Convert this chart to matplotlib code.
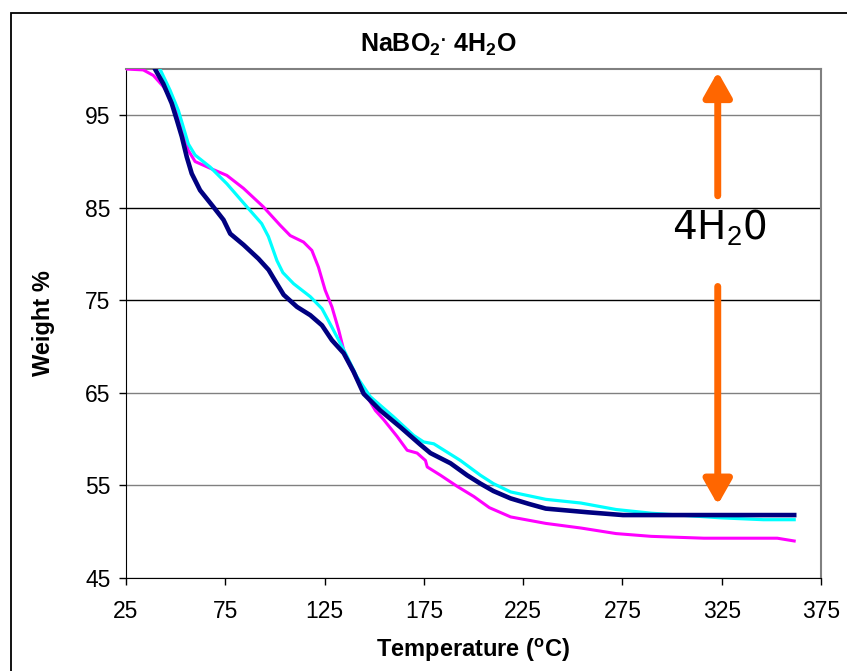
import numpy as np
import matplotlib
matplotlib.use('Agg')
import matplotlib.pyplot as plt
from matplotlib.patches import Rectangle

plt.rcParams['font.family'] = ['Liberation Sans', 'DejaVu Sans']
plt.rcParams['mathtext.fontset'] = 'custom'
plt.rcParams['mathtext.rm'] = 'Liberation Sans'
plt.rcParams['mathtext.bf'] = 'Liberation Sans:bold'

# TGA traces (temperature in C, weight in %)
navy_t = [38.5, 39.6, 43.8, 48.0, 50.6, 53.1, 55.6, 58.1, 62.3, 69.0, 74.1, 77.5, 84.2, 91.7,
          96.8, 99.3, 104.4, 111.1, 117.8, 123.7, 128.7, 134.6, 139.6, 144.7, 153.1, 163.2,
          173.3, 178.3, 188.4, 196.8, 203.5, 210, 218.7, 228, 236.4, 247, 257.6, 275.3, 300,
          330, 361.5]
navy_w = [100.5, 100.0, 98.4, 96.3, 94.5, 92.7, 90.5, 88.7, 86.9, 85.1, 83.7, 82.2, 81.0, 79.5,
          78.3, 77.4, 75.6, 74.3, 73.4, 72.3, 70.7, 69.3, 67.3, 64.9, 63.1, 61.3, 59.4, 58.5,
          57.4, 56.1, 55.2, 54.4, 53.6, 53.0, 52.5, 52.3, 52.1, 51.8, 51.8, 51.8, 51.8]

cyan_t = [41.5, 42.1, 47.2, 51.4, 53.9, 56.4, 59.8, 67.4, 75.8, 85.9, 93.3, 96.7, 101.0, 104,
          109.4, 117.8, 123.7, 128.7, 135.5, 141.4, 148.0, 159.8, 169.9, 174.9, 180.0, 193.4,
          203.5, 210, 218.7, 236.4, 254.1, 271.8, 289.5, 324.8, 346, 361.5]
cyan_w = [100.5, 100, 97.7, 95.5, 93.7, 91.9, 90.7, 89.4, 87.6, 85.1, 83.3, 81.9, 79.3, 78.0,
          76.8, 75.4, 74.1, 72.1, 69.3, 66.7, 64.6, 62.4, 60.4, 59.7, 59.5, 57.7, 56.1, 55.2,
          54.3, 53.5, 53.1, 52.4, 52.0, 51.5, 51.3, 51.3]

mag_t = [25, 33.7, 38.8, 43.8, 48.8, 53.0, 56.4, 59.8, 68.2, 75.8, 84.2, 94.2, 102.7, 107.7,
         114.4, 118.6, 121.9, 125.3, 128.7, 132.1, 135.5, 141.4, 146.4, 150.6, 154.8, 161.5,
         166.6, 171.6, 175.8, 176.7, 183.4, 191.8, 200.2, 208, 218.7, 236.4, 254.1, 271.8,
         289.5, 316, 353, 361.5]
mag_w = [100, 99.9, 99.3, 98.1, 96.3, 93.7, 91.2, 90.0, 89.2, 88.5, 87.1, 85.1, 83.1, 82.0,
         81.3, 80.4, 78.6, 76.1, 74.3, 71.8, 68.9, 66.4, 64.6, 63.1, 62.1, 60.3, 58.8, 58.5,
         57.7, 57.0, 56.1, 54.9, 53.8, 52.6, 51.6, 50.9, 50.4, 49.8, 49.5, 49.3, 49.3, 49.0]

x_ticks = [25, 75, 125, 175, 225, 275, 325, 375]
y_ticks = [45, 55, 65, 75, 85, 95]

# water-loss annotation
arrow_x = 323
arrow_up = (86.3, 99.7)
arrow_down = (76.5, 52.9)
label_pos = (324, 82.8)

fig = plt.figure(figsize=(8.47, 6.71), dpi=100)
ax = fig.add_axes([126 / 847, 1 - 578 / 671, (821 - 126) / 847, (578 - 69) / 671])

# outer chart frame
fig.patches.append(Rectangle((11 / 847, -0.1), 1.2, 1.1 - 13 / 671, transform=fig.transFigure,
                             fill=False, edgecolor='black', linewidth=1.3, zorder=0))

ax.plot(mag_t, mag_w, color='#FF00FF', linewidth=2.2, solid_joinstyle='round', zorder=3)
ax.plot(cyan_t, cyan_w, color='#00FFFF', linewidth=2.3, solid_joinstyle='round', zorder=4)
ax.plot(navy_t, navy_w, color='#000080', linewidth=3.3, solid_joinstyle='round', zorder=5)

ax.set_xlim(25, 375)
ax.set_ylim(45, 100)
ax.set_xticks(x_ticks)
ax.set_yticks(y_ticks)
ax.tick_params(direction='out', length=5, width=1, labelsize=16.5, pad=6)
ax.tick_params(axis='x', pad=11)

ax.yaxis.grid(True, linewidth=1)
for val, gl in zip(y_ticks, ax.get_ygridlines()):
    gl.set_color('black' if val in (75, 85) else '#808080')
ax.set_axisbelow(True)

for side in ['top', 'right']:
    ax.spines[side].set_color('#808080')
    ax.spines[side].set_linewidth(1.5)
for side in ['left', 'bottom']:
    ax.spines[side].set_color('black')

ax.set_xlabel(r'Temperature ($\mathbf{^o}$C)', fontsize=17, fontweight='bold', labelpad=10)
ax.set_ylabel('Weight %', fontsize=17, fontweight='bold', labelpad=22)

fig.text(438 / 847, 1 - 45 / 671, r'NaBO$\mathbf{_2}$$\mathbf{^{.}}$$\,$4H$\mathbf{_2}$O',
         fontsize=18, fontweight='bold', ha='center', va='center')

orange = '#FF6600'
for start, end in [arrow_up, arrow_down]:
    ax.annotate('', xy=(arrow_x, end), xytext=(arrow_x, start),
                arrowprops=dict(arrowstyle='-|>,head_length=1.5,head_width=0.85', color=orange,
                                linewidth=5, shrinkA=0, shrinkB=0), zorder=6)
ax.text(label_pos[0], label_pos[1], r'4H$_2$0', fontsize=28, ha='center', va='center',
        family='DejaVu Sans', zorder=6)

fig.savefig('out.png', dpi=100)
